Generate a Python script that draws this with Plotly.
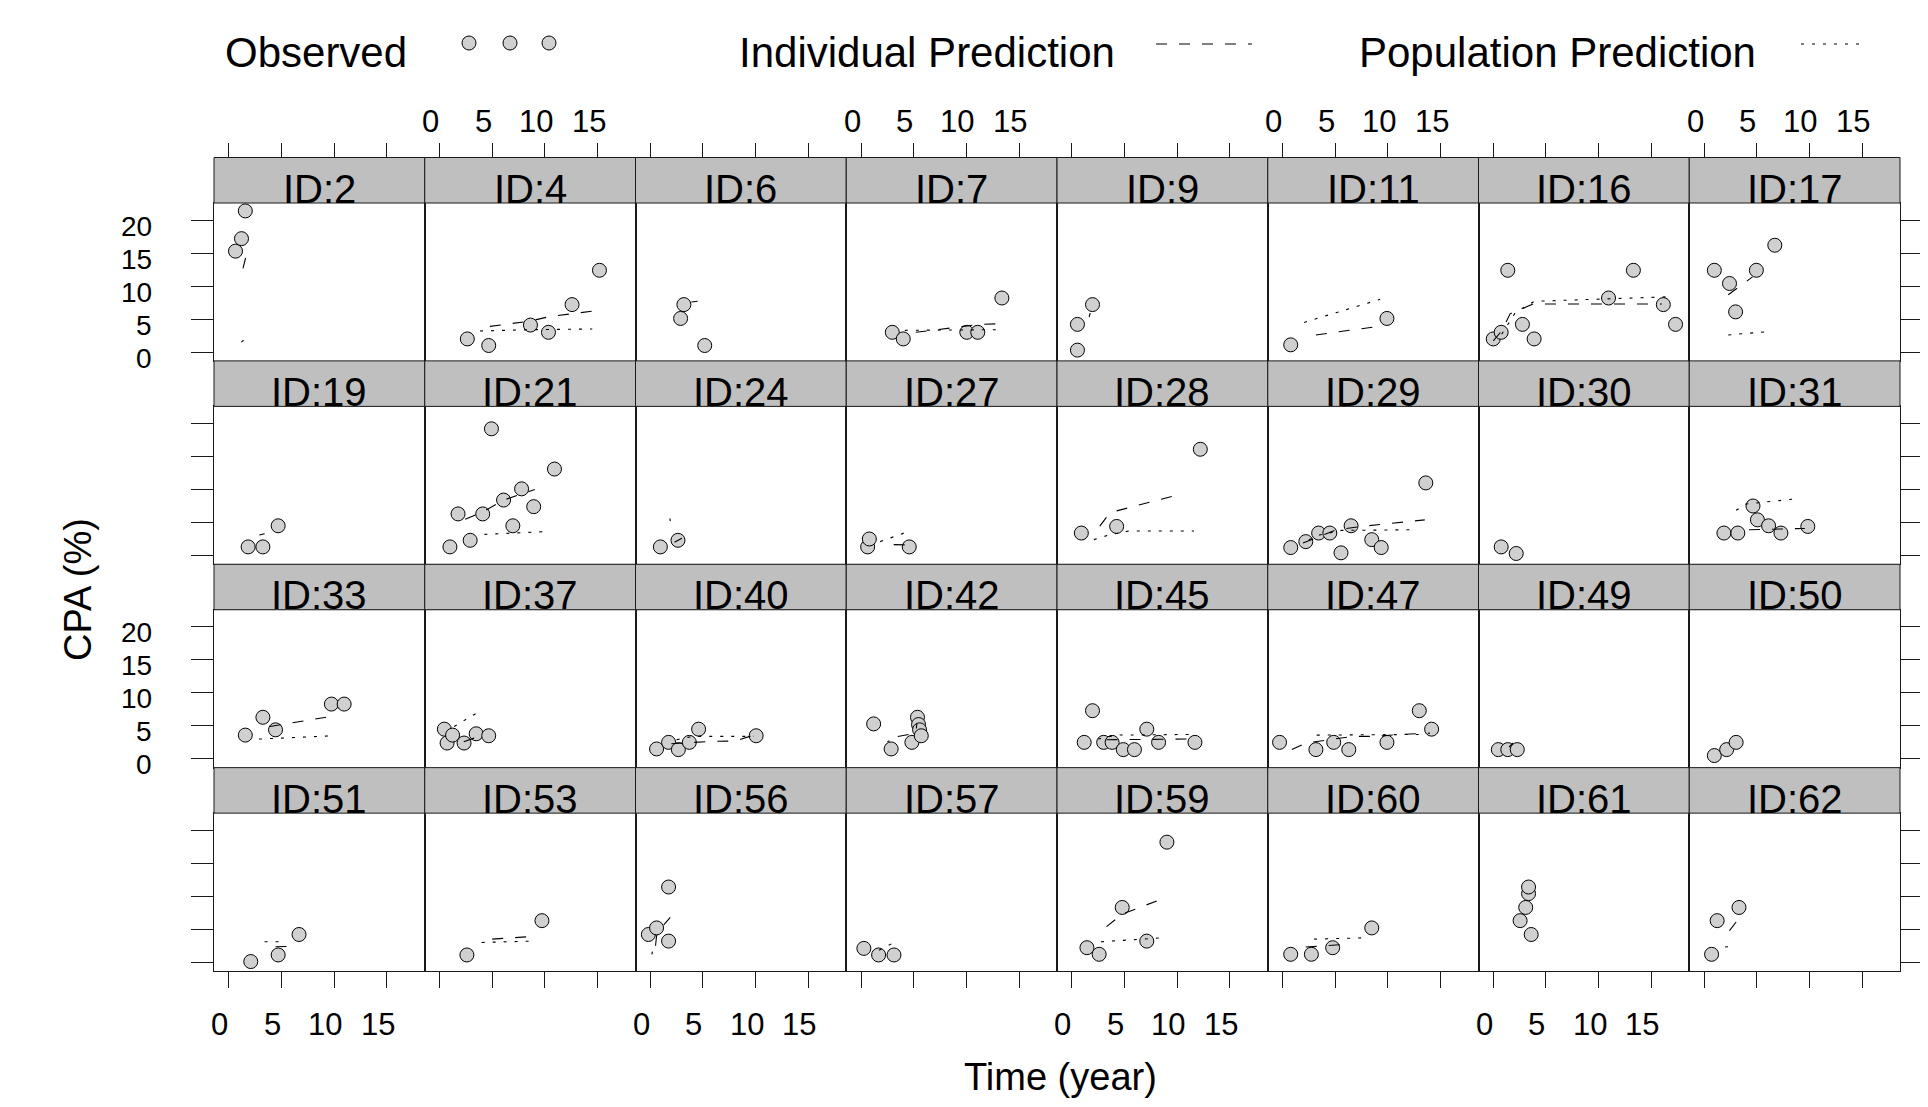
import plotly.graph_objects as go

# ---------------- data ----------------
IDS = [2, 4, 6, 7, 9, 11, 16, 17,
       19, 21, 24, 27, 28, 29, 30, 31,
       33, 37, 40, 42, 45, 47, 49, 50,
       51, 53, 56, 57, 59, 60, 61, 62]

XTICKS = [0, 5, 10, 15]
YTICKS = [0, 5, 10, 15, 20]

obs_id = [
    2, 2, 2,
    4, 4, 4, 4, 4, 4,
    6, 6, 6,
    7, 7, 7, 7, 7,
    9, 9, 9,
    11, 11,
    16, 16, 16, 16, 16, 16, 16, 16, 16,
    17, 17, 17, 17, 17,
    19, 19, 19,
    21, 21, 21, 21, 21, 21, 21, 21, 21, 21,
    24, 24,
    27, 27, 27,
    28, 28, 28,
    29, 29, 29, 29, 29, 29, 29, 29, 29,
    30, 30,
    31, 31, 31, 31, 31, 31, 31,
    33, 33, 33, 33, 33,
    37, 37, 37, 37, 37, 37,
    40, 40, 40, 40, 40, 40,
    42, 42, 42, 42, 42, 42, 42,
    45, 45, 45, 45, 45, 45, 45, 45, 45,
    47, 47, 47, 47, 47, 47, 47,
    49, 49, 49,
    50, 50, 50,
    51, 51, 51,
    53, 53,
    56, 56, 56, 56,
    57, 57, 57,
    59, 59, 59, 59, 59,
    60, 60, 60, 60,
    61, 61, 61, 61, 61,
    62, 62, 62,
]
obs_time = [
    0.64, 1.21, 1.57,
    2.64, 4.67, 8.63, 10.34, 12.58, 15.18,
    2.88, 3.19, 5.17,
    2.97, 4.01, 10.04, 11.08, 13.37,
    0.54, 0.54, 1.97,
    0.78, 9.91,
    0.0, 0.75, 1.38, 2.77, 3.88, 10.94, 13.3, 16.14, 17.3,
    0.98, 2.42, 3.0, 4.97, 6.72,
    1.84, 3.24, 4.69,
    0.99, 1.76, 2.91, 4.1, 4.93, 6.08, 6.96, 7.79, 8.94, 10.91,
    0.96, 2.63,
    0.63, 0.79, 4.58,
    0.91, 4.26, 12.2,
    0.78, 2.21, 3.43, 4.49, 5.55, 6.51, 8.47, 9.37, 13.6,
    0.75, 2.18,
    1.89, 3.21, 4.65, 5.07, 6.13, 7.3, 9.85,
    1.57, 3.24, 4.44, 9.74, 10.95,
    0.46, 0.72, 1.24, 2.33, 3.48, 4.67,
    0.6, 1.74, 2.67, 3.71, 4.59, 10.05,
    1.2, 2.86, 4.83, 5.36, 5.46, 5.56, 5.72,
    1.18, 1.97, 3.03, 3.83, 4.89, 5.95, 7.12, 8.24, 11.69,
    -0.28, 3.17, 4.86, 6.29, 9.91, 12.98, 14.15,
    0.48, 1.38, 2.28,
    0.98, 2.15, 3.05,
    2.09, 4.69, 6.67,
    2.6, 9.72,
    -0.18, 0.6, 1.74, 1.74,
    0.27, 1.67, 3.13,
    1.44, 2.6, 4.79, 7.12, 9.03,
    0.78, 2.74, 4.76, 8.47,
    2.55, 3.08, 3.35, 3.35, 3.6,
    0.72, 1.25, 3.32,
]
obs_cpa = [
    15.3, 17.2, 21.4,
    2.0, 1.0, 4.1, 3.0, 7.2, 12.4,
    5.1, 7.2, 1.0,
    3.0, 2.0, 3.0, 3.0, 8.2,
    0.3, 4.2, 7.2,
    1.1, 5.1,
    2.0, 3.0, 12.4, 4.2, 2.0, 8.2, 12.4, 7.2, 4.2,
    12.4, 10.4, 6.1, 12.4, 16.2,
    1.3, 1.3, 4.5,
    1.3, 6.3, 2.3, 6.3, 19.2, 8.4, 4.5, 10.1, 7.4, 13.1,
    1.3, 2.3,
    1.3, 2.5, 1.3,
    3.4, 4.4, 16.1,
    1.2, 2.1, 3.4, 3.4, 0.4, 4.5, 2.4, 1.2, 11.0,
    1.3, 0.3,
    3.4, 3.4, 7.5, 5.4, 4.5, 3.4, 4.4,
    3.6, 6.3, 4.4, 8.3, 8.3,
    4.5, 2.4, 3.6, 2.4, 3.8, 3.5,
    1.5, 2.5, 1.4, 2.5, 4.5, 3.5,
    5.3, 1.5, 2.5, 6.3, 5.2, 4.4, 3.5,
    2.5, 7.3, 2.5, 2.5, 1.4, 1.4, 4.5, 2.5, 2.5,
    2.5, 1.4, 2.5, 1.4, 2.5, 7.3, 4.5,
    1.4, 1.4, 1.4,
    0.5, 1.4, 2.5,
    0.1, 1.1, 4.2,
    1.1, 6.3,
    4.2, 5.2, 3.2, 11.4,
    2.1, 1.1, 1.1,
    2.2, 1.2, 8.3, 3.2, 18.2,
    1.2, 1.2, 2.2, 5.2,
    6.3, 8.3, 10.4, 11.4, 4.2,
    1.2, 6.3, 8.3,
]

# individual prediction (dashed)
ipred_id = [
    2, 2,
    4, 4, 4, 4, 4,
    6, 6,
    7, 7, 7, 7,
    9, 9,
    11, 11,
    16, 16, 16, 16, 16,
    17, 17,
    19, 19,
    21, 21, 21, 21,
    24, 24,
    27, 27,
    28, 28, 28, 28,
    29, 29, 29, 29,
    31, 31,
    33, 33,
    37, 37,
    40, 40, 40, 40,
    42, 42, 42,
    45, 45, 45,
    47, 47, 47, 47, 47, 47,
    49, 49,
    51, 51, 51,
    53, 53,
    56, 56, 56, 56,
    59, 59, 59,
    60, 60,
    62, 62,
]
ipred_time = [
    1.35, 1.6,
    4.78, 8.6, 10.5, 12.8, 15.0,
    3.9, 4.5,
    5.2, 8.0, 11.2, 13.3,
    1.65, 1.75,
    3.17, 9.1,
    0.0, 0.8, 1.6, 3.8, 16.0,
    2.3, 4.6,
    2.9, 3.4,
    2.44, 4.1, 6.1, 9.04,
    2.3, 3.0,
    3.1, 4.2,
    2.66, 3.3, 4.35, 10.1,
    1.94, 5.1, 7.8, 13.5,
    4.27, 9.58,
    3.9, 9.6,
    2.3, 3.4,
    2.0, 5.9, 8.1, 9.8,
    3.49, 5.2, 5.3,
    3.3, 7.0, 11.0,
    0.88, 2.2, 6.7, 8.8, 11.2, 14.0,
    1.5, 1.9,
    4.44, 5.74, 6.1,
    5.0, 8.7,
    0.5, 0.6, 1.2, 1.9,
    3.3, 4.8, 8.34,
    2.2, 6.45,
    2.42, 3.05,
]
ipred_cpa = [
    12.7, 14.3,
    3.9, 4.7, 5.4, 5.9, 6.3,
    7.6, 7.7,
    3.0, 3.6, 4.2, 4.3,
    5.3, 5.9,
    2.6, 3.9,
    1.7, 3.2, 5.8, 7.3, 7.3,
    8.7, 11.4,
    3.1, 3.3,
    5.5, 6.6, 8.4, 10.0,
    2.0, 2.6,
    1.65, 1.6,
    4.45, 5.8, 6.8, 9.2,
    1.9, 3.9, 4.45, 5.4,
    3.9, 4.1,
    4.9, 6.4,
    2.6, 3.2,
    2.3, 2.65, 2.7, 3.6,
    3.4, 3.9, 5.3,
    2.9, 3.0, 3.0,
    1.4, 2.4, 3.4, 3.4, 3.7, 3.9,
    1.8, 2.4,
    2.35, 2.4, 3.5,
    3.5, 3.9,
    2.5, 4.0, 5.5, 6.8,
    5.4, 7.3, 9.45,
    2.3, 2.75,
    4.8, 6.1,
]

# population prediction (dotted)
ppred_id = [
    2, 2,
    4, 4, 4,
    7, 7,
    11, 11,
    16, 16, 16, 16,
    17, 17,
    21, 21,
    24, 24,
    27, 27,
    28, 28, 28, 28,
    29, 29, 29, 29,
    31, 31, 31,
    33, 33,
    37, 37,
    40, 40, 40,
    42, 42,
    45, 45, 45,
    47, 47,
    51, 51,
    53, 53,
    56, 56,
    57, 57,
    59, 59,
    60, 60,
    62, 62,
]
ppred_time = [
    1.2, 1.6,
    3.84, 8.6, 14.5,
    4.16, 13.0,
    2.05, 9.27,
    0.8, 2.1, 3.9, 16.9,
    2.3, 6.05,
    4.26, 9.88,
    1.87, 1.9,
    1.82, 4.42,
    2.1, 3.5, 5.4, 11.6,
    2.5, 3.5, 5.6, 12.5,
    3.05, 4.0, 8.8,
    2.87, 9.9,
    1.39, 4.0,
    2.5, 4.0, 9.8,
    2.5, 2.7,
    2.5, 4.26, 11.2,
    3.25, 13.1,
    3.4, 5.2,
    4.0, 8.9,
    0.15, 0.2,
    1.7, 2.9,
    2.77, 8.6,
    3.0, 7.8,
    2.0, 2.3,
]
ppred_cpa = [
    1.5, 2.1,
    3.2, 3.4, 3.5,
    3.3, 3.4,
    4.5, 8.0,
    2.7, 6.0, 7.7, 8.4,
    2.6, 3.1,
    3.2, 3.6,
    5.6, 5.2,
    2.1, 3.6,
    2.4, 3.1, 3.7, 3.7,
    2.4, 3.1, 3.8, 3.9,
    6.85, 7.8, 8.6,
    3.0, 3.5,
    4.9, 7.4,
    2.9, 3.4, 3.4,
    2.6, 2.75,
    3.0, 3.6, 3.7,
    3.6, 3.7,
    3.1, 3.1,
    3.0, 3.2,
    1.2, 1.6,
    1.8, 2.8,
    3.1, 3.7,
    3.5, 3.7,
    2.3, 2.35,
]

# ---------------- geometry / style ----------------
# page has an 8px body margin: the figure sits at (8, 8) in the window
OFF = 8
W, H = 1928 - 2 * OFF, 1107 - 2 * OFF
NCOL, NROW = 8, 4
XRANGE = [-1.4, 18.6]
YRANGE = [-1.33, 22.6]
PLOT_L, PLOT_R = 214.0, 1900.0
TOP, BOTTOM = 157.5, 971.0
STRIP_H = 45.5
COL_W = (PLOT_R - PLOT_L) / NCOL
ROW_H = (BOTTOM - TOP) / NROW

FONT = "Liberation Sans, Arial, Helvetica, sans-serif"
LINE = "#1a1a1a"
STRIP_FILL = "#bfbfbf"
PT_FILL = "#d0d0d0"
IND_DASH = "11px,12px"
POP_DASH = "3px,8px"
XTICK_FONT = 31
YTICK_FONT = 28


def px(x):
    return (x - OFF) / W


def py(y):
    return 1 - (y - OFF) / H


def select(ids, xs, ys, pid):
    idx = [i for i, v in enumerate(ids) if v == pid]
    return [xs[i] for i in idx], [ys[i] for i in idx]


fig = go.Figure()
layout = dict(
    width=W, height=H, autosize=False,
    margin=dict(l=0, r=0, t=0, b=0),
    paper_bgcolor="white", plot_bgcolor="white",
    showlegend=False,
    font=dict(family=FONT, color="black"),
)
shapes = []
annotations = []

for i, pid in enumerate(IDS):
    r, c = divmod(i, NCOL)
    k = i + 1
    L = PLOT_L + c * COL_W
    R = L + COL_W
    st = TOP + r * ROW_H
    sb = st + STRIP_H
    pb = st + ROW_H

    layout[f"xaxis{k}"] = dict(
        domain=[px(L), px(R)], range=XRANGE, anchor=f"y{k}",
        showline=True, mirror=True, linecolor=LINE, linewidth=1,
        showgrid=False, zeroline=False,
        ticks="outside" if r == NROW - 1 else "", ticklen=16, tickwidth=1,
        tickcolor=LINE, tickvals=XTICKS, showticklabels=False, fixedrange=True,
    )
    layout[f"yaxis{k}"] = dict(
        domain=[py(pb), py(sb)], range=YRANGE, anchor=f"x{k}",
        side="right" if c == NCOL - 1 else "left",
        showline=True, mirror=True, linecolor=LINE, linewidth=1,
        showgrid=False, zeroline=False,
        ticks="outside" if c in (0, NCOL - 1) else "",
        ticklen=22 if c == 0 else 21, tickwidth=1, tickcolor=LINE,
        tickvals=YTICKS, showticklabels=False, fixedrange=True,
    )

    # strip
    shapes.append(dict(type="rect", xref="paper", yref="paper",
                       x0=px(L), x1=px(R), y0=py(sb), y1=py(st),
                       fillcolor=STRIP_FILL, line=dict(color=LINE, width=1),
                       layer="above"))
    annotations.append(dict(text=f"ID:{pid}", xref="paper", yref="paper",
                            x=px((L + R) / 2), y=py(sb - 14.5),
                            xanchor="center", yanchor="middle", showarrow=False,
                            font=dict(size=40, family=FONT, color="black")))

    # data
    ot, oy = select(obs_id, obs_time, obs_cpa, pid)
    fig.add_trace(go.Scatter(
        x=ot, y=oy, mode="markers", xaxis=f"x{k}", yaxis=f"y{k}",
        marker=dict(symbol="circle", size=14, color=PT_FILL,
                    line=dict(color="black", width=1)),
        name="Observed", hoverinfo="skip"))
    it, iy = select(ipred_id, ipred_time, ipred_cpa, pid)
    if it:
        fig.add_trace(go.Scatter(
            x=it, y=iy, mode="lines", xaxis=f"x{k}", yaxis=f"y{k}",
            line=dict(color="black", width=1.1, dash=IND_DASH),
            name="Individual Prediction", hoverinfo="skip"))
    pt, pyv = select(ppred_id, ppred_time, ppred_cpa, pid)
    if pt:
        fig.add_trace(go.Scatter(
            x=pt, y=pyv, mode="lines", xaxis=f"x{k}", yaxis=f"y{k}",
            line=dict(color="black", width=1.1, dash=POP_DASH),
            name="Population Prediction", hoverinfo="skip"))

    # tick labels (lattice alternating)
    if r == NROW - 1 and c % 2 == 0:
        for v in XTICKS:
            annotations.append(dict(text=str(v), xref=f"x{k}", yref="paper",
                                    x=v, y=py(1024), xshift=-9,
                                    xanchor="center", yanchor="middle",
                                    showarrow=False,
                                    font=dict(size=XTICK_FONT, family=FONT)))
    if r == 0 and c % 2 == 1:
        for v in XTICKS:
            annotations.append(dict(text=str(v), xref=f"x{k}", yref="paper",
                                    x=v, y=py(121.5), xshift=-9,
                                    xanchor="center", yanchor="middle",
                                    showarrow=False,
                                    font=dict(size=XTICK_FONT, family=FONT)))
    if c == 0 and r % 2 == 0:
        for v in YTICKS:
            annotations.append(dict(text=str(v), xref="paper", yref=f"y{k}",
                                    x=px(153), y=v, yshift=-6,
                                    xanchor="right", yanchor="middle",
                                    showarrow=False, borderpad=0,
                                    font=dict(size=YTICK_FONT, family=FONT)))

# top ticks (above the strips), one overlay axis per column
for c in range(NCOL):
    k = 33 + c
    layout[f"xaxis{k}"] = dict(
        overlaying=f"x{c + 1}", anchor="free", position=py(TOP), side="top",
        range=XRANGE, ticks="outside", ticklen=15, tickwidth=1, tickcolor=LINE,
        tickvals=XTICKS, showticklabels=False, showline=False,
        showgrid=False, zeroline=False, fixedrange=True,
    )
    fig.add_trace(go.Scatter(x=[None], y=[None], xaxis=f"x{k}", yaxis=f"y{c + 1}",
                             mode="markers", hoverinfo="skip", showlegend=False))

# axis titles
annotations.append(dict(text="CPA (%)", xref="paper", yref="paper",
                        x=px(78), y=py(590), textangle=-90,
                        xanchor="center", yanchor="middle", showarrow=False,
                        font=dict(size=38, family=FONT)))
annotations.append(dict(text="Time (year)", xref="paper", yref="paper",
                        x=px(1060), y=py(1077),
                        xanchor="center", yanchor="middle", showarrow=False,
                        borderpad=0,
                        font=dict(size=38, family=FONT)))

# key (top)
LEG_Y = 53
for txt, cx in [("Observed", 316), ("Individual Prediction", 927),
                ("Population Prediction", 1557)]:
    annotations.append(dict(text=txt, xref="paper", yref="paper",
                            x=px(cx), y=py(LEG_Y),
                            xanchor="center", yanchor="middle", showarrow=False,
                            font=dict(size=42, family=FONT)))
for cx in (469, 510, 549):
    shapes.append(dict(type="circle", xref="paper", yref="paper",
                       xsizemode="pixel", ysizemode="pixel",
                       xanchor=px(cx), yanchor=py(43),
                       x0=-7, x1=7, y0=-7, y1=7,
                       fillcolor=PT_FILL, line=dict(color="black", width=1)))
shapes.append(dict(type="line", xref="paper", yref="paper",
                   x0=px(1156), x1=px(1252), y0=py(44), y1=py(44),
                   line=dict(color="black", width=1.1, dash=IND_DASH)))
shapes.append(dict(type="line", xref="paper", yref="paper",
                   x0=px(1801), x1=px(1866), y0=py(44), y1=py(44),
                   line=dict(color="black", width=1.1, dash=POP_DASH)))

layout["shapes"] = shapes
layout["annotations"] = annotations
fig.update_layout(**layout)

fig.write_html("out.html")
